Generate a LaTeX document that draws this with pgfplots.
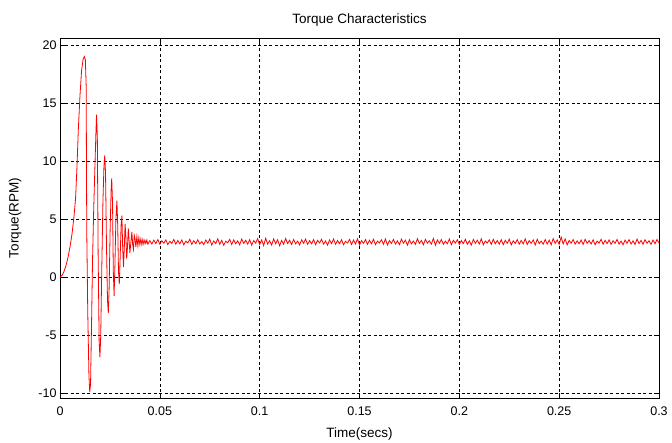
\documentclass[border=0pt]{standalone}
\usepackage{fontspec}
\setmainfont{Liberation Sans}
\usepackage{pgfplots}
\pgfplotsset{compat=1.18}
\usepackage{pgfplotstable}

\pgfplotstableread{
t y
0 0
0.001 0.15
0.002 0.5
0.003 1.0
0.004 1.7
0.005 2.6
0.006 3.7
0.007 5.2
0.0078 6.8
0.0085 9.5
0.0092 12.8
0.0100 15.6
0.0108 17.8
0.0116 18.8
0.0122 19.0
0.0127 18.7
0.0131 16.5
0.0134 4.0
0.0139 -3.0
0.0145 -8.5
0.0149 -9.9
0.0153 -9.2
0.0158 -4.0
0.0163 1.5
0.0169 6.0
0.0175 9.6
0.0180 12.5
0.0183 14.0
0.0187 12.0
0.0191 2.0
0.0196 -5.5
0.0200 -6.9
0.0204 -5.0
0.0209 0.5
0.0215 6.5
0.0220 9.5
0.0224 10.5
0.0228 9.0
0.0233 2.5
0.0238 -2.0
0.0242 -3.1
0.0246 -1.0
0.0251 4.0
0.0256 7.5
0.0259 8.5
0.0263 6.5
0.0267 0.5
0.0271 -1.6
0.0275 1.0
0.0280 5.0
0.0285 6.6
0.0289 4.5
0.0293 0.5
0.0297 -0.6
0.0301 1.5
0.0306 4.5
0.0310 5.3
0.0314 2.5
0.0318 0.9
0.0322 2.5
0.0326 4.6
0.0330 3.5
0.0334 1.6
0.0338 2.6
0.0342 4.2
0.0346 3.2
0.0350 2.1
0.0355 3.0
0.0360 3.9
0.0364 2.8
0.0368 2.4
0.0372 3.6
0.0376 3.3
0.0380 2.6
0.0385 3.5
0.0390 2.7
0.0395 3.4
0.0400 2.8
0.0405 3.3
0.0410 2.8
0.0415 3.25
0.0420 2.85
0.0425 3.2
0.0430 2.9
0.0435 3.2
0.0440 2.85
0.0450 3.15
0.046 2.86
0.047 3.19
0.048 2.90
0.049 3.24
0.050 2.84
0.051 3.14
0.052 2.93
0.053 3.22
0.054 2.81
0.055 3.09
0.056 2.92
0.057 3.25
0.058 2.85
0.059 3.16
0.060 2.88
0.061 3.21
0.062 2.79
0.063 3.11
0.064 2.95
0.065 3.27
0.066 2.83
0.067 3.15
0.068 2.89
0.069 3.23
0.070 2.86
0.071 3.07
0.072 2.80
0.073 3.20
0.074 2.93
0.075 3.28
0.076 2.77
0.077 3.12
0.078 2.90
0.079 3.31
0.080 2.84
0.081 3.17
0.082 2.75
0.083 3.10
0.084 2.96
0.085 3.26
0.086 2.82
0.087 3.22
0.088 2.88
0.089 3.13
0.090 2.79
0.091 3.29
0.092 2.92
0.093 3.18
0.094 2.85
0.095 3.24
0.096 2.76
0.097 3.16
0.098 2.94
0.099 3.33
0.100 2.81
0.101 3.21
0.102 2.73
0.103 3.36
0.104 2.86
0.105 3.14
0.106 2.77
0.107 3.30
0.108 2.89
0.109 3.23
0.110 2.71
0.111 3.17
0.112 2.84
0.113 3.34
0.114 2.90
0.115 3.19
0.116 2.82
0.117 3.25
0.118 2.87
0.119 3.11
0.120 2.78
0.121 3.22
0.122 2.93
0.123 3.28
0.124 2.83
0.125 3.15
0.126 2.88
0.127 3.24
0.128 2.80
0.129 3.18
0.130 2.95
0.131 3.27
0.132 2.85
0.133 3.12
0.134 2.76
0.135 3.21
0.136 2.90
0.137 3.29
0.138 2.84
0.139 3.16
0.140 2.89
0.141 3.23
0.142 2.79
0.143 3.10
0.144 2.94
0.145 3.26
0.146 2.82
0.147 3.20
0.148 2.87
0.149 3.31
0.150 2.77
0.151 3.15
0.152 2.92
0.153 3.24
0.154 2.83
0.155 3.18
0.156 2.88
0.157 3.27
0.158 2.80
0.159 3.11
0.160 2.95
0.161 3.22
0.162 2.84
0.163 3.30
0.164 2.78
0.165 3.16
0.166 2.91
0.167 3.25
0.168 2.86
0.169 3.13
0.170 2.81
0.171 3.28
0.172 2.93
0.173 3.19
0.174 2.76
0.175 3.23
0.176 2.88
0.177 3.12
0.178 2.83
0.179 3.32
0.180 2.91
0.181 3.17
0.182 2.79
0.183 3.26
0.184 2.94
0.185 3.14
0.186 2.85
0.187 3.34
0.188 2.75
0.189 3.21
0.190 2.92
0.191 3.24
0.192 2.84
0.193 3.11
0.194 2.88
0.195 3.29
0.196 2.80
0.197 3.18
0.198 2.94
0.199 3.23
0.200 2.82
0.201 3.16
0.202 2.90
0.203 3.27
0.204 2.84
0.205 3.13
0.206 2.77
0.207 3.25
0.208 2.92
0.209 3.19
0.210 2.86
0.211 3.30
0.212 2.79
0.213 3.12
0.214 2.94
0.215 3.22
0.216 2.83
0.217 3.26
0.218 2.88
0.219 3.16
0.220 2.85
0.221 3.23
0.222 2.80
0.223 3.18
0.224 2.93
0.225 3.28
0.226 2.78
0.227 3.14
0.228 2.91
0.229 3.24
0.230 2.84
0.231 3.17
0.232 2.87
0.233 3.31
0.234 2.82
0.235 3.15
0.236 2.92
0.237 3.22
0.238 2.77
0.239 3.27
0.240 2.90
0.241 3.11
0.242 2.84
0.243 3.25
0.244 2.86
0.245 3.20
0.246 2.80
0.247 3.33
0.248 2.91
0.249 3.21
0.250 2.83
0.251 3.46
0.252 2.87
0.253 3.30
0.254 2.79
0.255 3.17
0.256 2.93
0.257 3.24
0.258 2.85
0.259 3.13
0.260 2.88
0.261 3.21
0.262 2.82
0.263 3.26
0.264 2.92
0.265 3.15
0.266 2.86
0.267 3.23
0.268 2.79
0.269 3.12
0.270 2.94
0.271 3.27
0.272 2.84
0.273 3.18
0.274 2.89
0.275 3.22
0.276 2.83
0.277 3.14
0.278 2.91
0.279 3.25
0.280 2.85
0.281 3.11
0.282 2.80
0.283 3.20
0.284 2.93
0.285 3.24
0.286 2.86
0.287 3.13
0.288 2.82
0.289 3.28
0.290 2.90
0.291 3.17
0.292 2.84
0.293 3.23
0.294 2.92
0.295 3.14
0.296 2.83
0.297 3.21
0.298 2.88
0.299 3.25
0.300 2.95
}\torquedata

\begin{document}
\begin{tikzpicture}
\path[use as bounding box] (-60pt,-45pt) rectangle (612pt,398pt);
\begin{axis}[
  at={(0pt,0pt)}, anchor=south west,
  scale only axis, width=599pt, height=360pt,
  xmin=0, xmax=0.3, ymin=-10.4, ymax=20.6,
  xtick={0,0.05,0.1,0.15,0.2,0.25,0.3},
  xticklabels={0,0.05,0.1,0.15,0.2,0.25,0.3},
  ytick={-10,-5,0,5,10,15,20},
  yticklabels={-10,-5,0,5,10,15,20},
  scaled x ticks=false,
  tick align=inside,
  xtick pos=both, ytick pos=both,
  major tick length=5pt,
  grid=major,
  major grid style={black, dash pattern=on 3pt off 2.5pt, line width=0.5pt},
  axis line style={black, line width=0.8pt},
  tick style={black, line width=0.6pt},
  tick label style={font=\fontsize{12.5}{14}\selectfont},
  xticklabel style={yshift=-5pt},
  title={Torque Characteristics},
  title style={font=\fontsize{13.5}{15}\selectfont, yshift=2pt},
  xlabel={Time(secs)}, ylabel={Torque(RPM)},
  label style={font=\fontsize{13.5}{15}\selectfont},
  xlabel style={yshift=-5pt},
  ylabel style={yshift=10pt},
]
\addplot[red, line width=0.8pt] table[x=t,y=y]{\torquedata};
\end{axis}
\end{tikzpicture}
\end{document}
